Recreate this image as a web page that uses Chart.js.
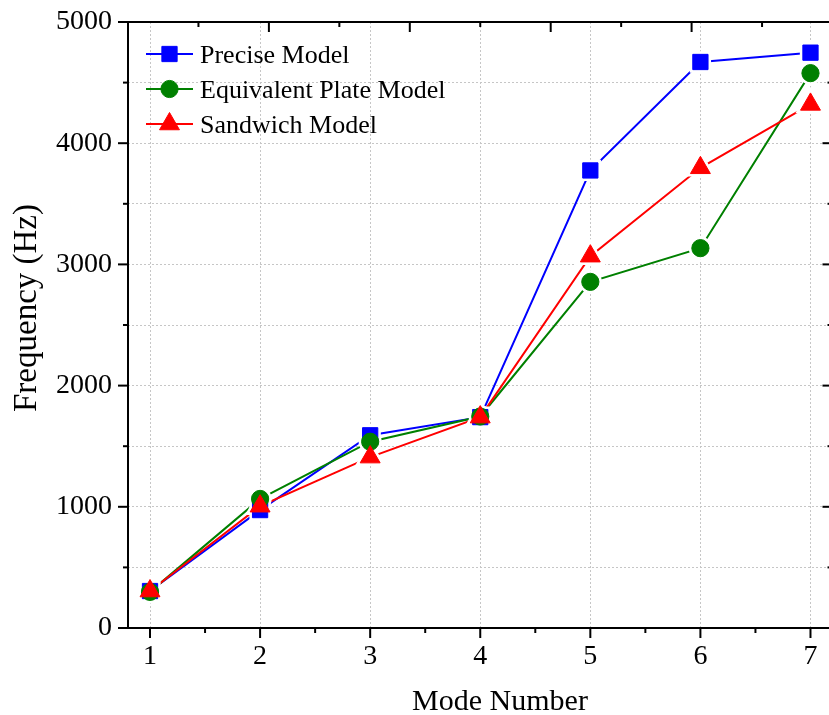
<!DOCTYPE html>
<html>
<head>
<meta charset="utf-8">
<script src="https://cdn.jsdelivr.net/npm/chart.js@4/dist/chart.umd.min.js"></script>
<style>
  html, body { margin: 0; padding: 0; overflow: hidden; background: #fff; }
  canvas { display: block; }
</style>
</head>
<body>
<canvas id="chart" width="850" height="715"></canvas>
<script>
// Natural frequencies of the first seven modes for three modelling approaches
const modeNumbers = [1, 2, 3, 4, 5, 6, 7];
const preciseModel = [305, 973, 1590, 1740, 3775, 4670, 4747];
const equivalentPlateModel = [298, 1065, 1537, 1745, 2856, 3134, 4578];
const sandwichModel = [305, 1005, 1410, 1740, 3068, 3797, 4320];
const yTickValues = [0, 500, 1000, 1500, 2000, 2500, 3000, 3500, 4000, 4500, 5000];
const seriesNames = ['Precise Model', 'Equivalent Plate Model', 'Sandwich Model'];

const FONT = '"Liberation Serif", "Times New Roman", serif';
const series = [
  { name: seriesNames[0], values: preciseModel, color: '#0000ff', style: 'rect', radius: 10.8 },
  { name: seriesNames[1], values: equivalentPlateModel, color: '#008000', style: 'circle', radius: 8.6 },
  { name: seriesNames[2], values: sandwichModel, color: '#ff0000', style: 'triangle', radius: 11.5 }
];

const toPoints = vals => modeNumbers.map((m, i) => ({ x: m, y: vals[i] }));

const datasets = [];
// connecting lines (bottom layer)
series.forEach((s, i) => datasets.push({
  label: s.name,
  data: toPoints(s.values),
  showLine: true,
  borderColor: s.color,
  borderWidth: 2,
  pointRadius: 0,
  order: 32 - i
}));
// white gaps round every symbol
series.forEach((s, i) => datasets.push({
  label: s.name + ' gap',
  data: toPoints(s.values),
  showLine: false,
  pointStyle: s.style,
  pointRadius: s.radius,
  pointBackgroundColor: '#ffffff',
  pointBorderColor: '#ffffff',
  pointBorderWidth: 6,
  order: 22 - i
}));
// symbols (top layer)
series.forEach((s, i) => datasets.push({
  label: s.name + ' symbols',
  data: toPoints(s.values),
  showLine: false,
  pointStyle: s.style,
  pointRadius: s.radius,
  pointBackgroundColor: s.color,
  pointBorderColor: s.color,
  pointBorderWidth: 1,
  order: 12 - i
}));

// frame, ticks, axis titles and legend
const decorations = {
  id: 'decorations',
  afterDraw(chart) {
    const ctx = chart.ctx;
    const xs = chart.scales.x, ys = chart.scales.y;
    const { left, right, top, bottom } = chart.chartArea;
    ctx.save();
    ctx.strokeStyle = '#000';
    ctx.lineWidth = 2;
    ctx.lineCap = 'butt';
    ctx.strokeRect(left, top, right - left, bottom - top);

    const tick = (x1, y1, x2, y2) => { ctx.beginPath(); ctx.moveTo(x1, y1); ctx.lineTo(x2, y2); ctx.stroke(); };
    // bottom axis: major at each mode, minor halfway
    modeNumbers.forEach(m => {
      const px = xs.getPixelForValue(m);
      tick(px, bottom, px, bottom + 10);
      const mx = xs.getPixelForValue(m + 0.5);
      if (m + 0.5 < xs.max) tick(mx, bottom, mx, bottom + 5);
    });
    // left (outward) and right (inward) axes
    yTickValues.forEach(v => {
      const py = ys.getPixelForValue(v);
      const len = v % 1000 === 0 ? 10 : 5;
      tick(left - len, py, left, py);
      tick(right - len, py, right, py);
    });
    // top axis: five major divisions with minor ticks between
    for (let k = 0; k <= 10; k++) {
      const px = left + (right - left) * k / 10;
      tick(px, top, px, top + (k % 2 === 0 ? 10 : 5));
    }

    // axis titles
    ctx.fillStyle = '#000';
    ctx.font = '30px ' + FONT;
    ctx.textAlign = 'center';
    ctx.textBaseline = 'alphabetic';
    ctx.fillText('Mode Number', 500, 710);
    ctx.save();
    ctx.translate(36, 308);
    ctx.rotate(-Math.PI / 2);
    ctx.font = '33px ' + FONT;
    ctx.fillText('Frequency (Hz)', 0, 0);
    ctx.restore();

    // legend
    ctx.font = '26px ' + FONT;
    ctx.textAlign = 'left';
    series.forEach((s, i) => {
      const cy = 54 + i * 35;
      ctx.strokeStyle = s.color;
      ctx.lineWidth = 2;
      tick(146, cy, 193, cy);
      ctx.fillStyle = s.color;
      ctx.lineWidth = 1;
      Chart.helpers.drawPoint(ctx, { pointStyle: s.style, radius: s.radius, borderWidth: 1, rotation: 0 }, 169.5, cy);
      ctx.fillStyle = '#000';
      ctx.fillText(s.name, 200, cy + 9);
    });
    ctx.restore();
  }
};

const noEdgePadding = s => { s.paddingTop = 0; s.paddingBottom = 0; s.paddingLeft = 0; s.paddingRight = 0; };

new Chart(document.getElementById('chart'), {
  type: 'scatter',
  data: { datasets },
  options: {
    responsive: false,
    animation: false,
    devicePixelRatio: 1,
    layout: { padding: { left: 0, right: 14, top: 22, bottom: 0 } },
    plugins: { legend: { display: false }, tooltip: { enabled: false } },
    scales: {
      x: {
        type: 'linear',
        min: 0.8,
        max: 7.2,
        afterBuildTicks: s => { s.ticks = modeNumbers.map(v => ({ value: v })); },
        afterFit: s => { s.height = 87; noEdgePadding(s); },
        grid: { color: '#c6c6c6', lineWidth: 1, drawTicks: false },
        border: { display: false, dash: [2, 2] },
        ticks: { color: '#000', font: { family: FONT, size: 28 }, padding: 12, maxRotation: 0, autoSkip: false }
      },
      y: {
        type: 'linear',
        min: 0,
        max: 5000,
        afterBuildTicks: s => { s.ticks = yTickValues.map(v => ({ value: v })); },
        afterFit: s => { s.width = 128; noEdgePadding(s); },
        grid: { color: '#c6c6c6', lineWidth: 1, drawTicks: false },
        border: { display: false, dash: [2, 2] },
        ticks: {
          color: '#000',
          font: { family: FONT, size: 28 },
          padding: 16,
          autoSkip: false,
          callback: v => (v % 1000 === 0 ? String(v) : '')
        }
      }
    }
  },
  plugins: [decorations]
});
</script>
</body>
</html>
